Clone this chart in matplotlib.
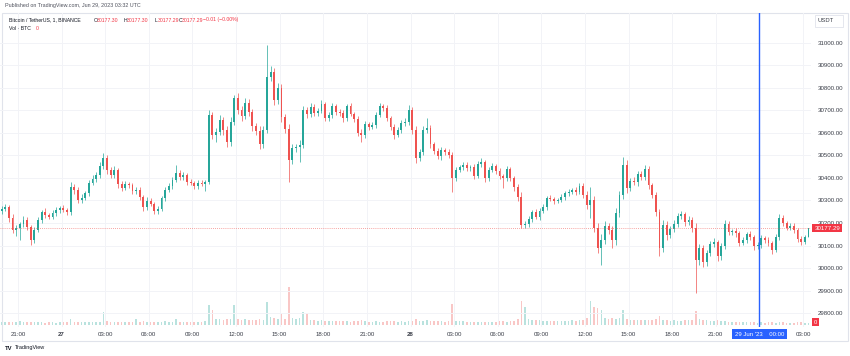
import numpy as np
import pandas as pd
import matplotlib
matplotlib.use("Agg")
import matplotlib.pyplot as plt
from matplotlib.patches import Rectangle

plt.rcParams['font.family'] = ['Liberation Sans', 'DejaVu Sans']

times = pd.date_range("2023-06-26 19:45", periods=223, freq="15min")
first_open = 30255

close = [
    30262, 30271, 30222, 30169, 30178, 30196, 30213, 30182, 30124, 30169,
    30213, 30249, 30236, 30227, 30244, 30258, 30267, 30258, 30249, 30360,
    30347, 30302, 30311, 30333, 30378, 30396, 30413, 30453, 30489, 30436,
    30413, 30436, 30373, 30356, 30373, 30369, 30342, 30347, 30316, 30271,
    30298, 30284, 30253, 30262, 30311, 30347, 30364, 30391, 30422, 30404,
    30413, 30382, 30378, 30364, 30378, 30373, 30382, 30680, 30591, 30604,
    30658, 30613, 30560, 30649, 30756, 30702, 30676, 30733, 30693, 30631,
    30609, 30551, 30613, 30849, 30871, 30747, 30800, 30671, 30618, 30480,
    30533, 30538, 30547, 30702, 30684, 30716, 30689, 30698, 30729, 30667,
    30680, 30720, 30693, 30689, 30667, 30720, 30684, 30662, 30600, 30591,
    30640, 30627, 30636, 30680, 30720, 30711, 30667, 30627, 30591, 30613,
    30644, 30649, 30702, 30613, 30489, 30516, 30613, 30622, 30551, 30520,
    30498, 30524, 30516, 30502, 30400, 30436, 30449, 30458, 30444, 30449,
    30409, 30462, 30471, 30400, 30436, 30453, 30431, 30409, 30400, 30440,
    30400, 30360, 30316, 30191, 30196, 30218, 30249, 30227, 30253, 30271,
    30311, 30307, 30298, 30302, 30316, 30333, 30338, 30347, 30338, 30364,
    30324, 30280, 30302, 30178, 30089, 30124, 30187, 30169, 30124, 30244,
    30324, 30458, 30356, 30387, 30382, 30418, 30404, 30440, 30369, 30324,
    30249, 30089, 30191, 30147, 30173, 30196, 30231, 30240, 30204, 30213,
    30178, 30036, 30089, 30027, 30067, 30107, 30116, 30053, 30098, 30196,
    30160, 30164, 30155, 30111, 30124, 30151, 30138, 30098, 30102, 30133,
    30124, 30111, 30080, 30138, 30222, 30200, 30178, 30187, 30169, 30129,
    30116, 30138, 30177.29,
]

# how far the high / low reach past the body (USDT)
wick_up = [
    12, 15, 10, 18, 14, 9, 16, 12, 10, 15,
    14, 11, 16, 9, 13, 15, 10, 12, 8, 20,
    15, 12, 18, 10, 14, 16, 12, 18, 22, 14,
    12, 16, 10, 13, 15, 11, 9, 14, 12, 10,
    16, 12, 9, 14, 11, 15, 13, 12, 36, 15,
    12, 10, 14, 9, 12, 11, 8, 22, 13, 18,
    20, 15, 18, 22, 13, 20, 16, 24, 18, 15,
    14, 20, 16, 142, 25, 20, 22, 18, 15, 20,
    18, 15, 20, 16, 14, 18, 12, 15, 16, 10,
    14, 12, 10, 15, 13, 9, 14, 11, 12, 16,
    13, 10, 15, 12, 14, 10, 12, 9, 13, 15,
    12, 16, 22, 14, 18, 15, 20, 45, 14, 10,
    12, 14, 9, 13, 15, 12, 10, 14, 11, 9,
    15, 12, 18, 10, 13, 14, 9, 12, 10, 15,
    11, 9, 14, 20, 12, 15, 10, 13, 12, 14,
    10, 12, 9, 11, 13, 10, 12, 9, 14, 15,
    12, 16, 58, 18, 22, 26, 20, 15, 18, 24,
    20, 35, 22, 14, 18, 15, 12, 16, 14, 10,
    12, 15, 24, 18, 14, 16, 12, 15, 10, 16,
    12, 20, 18, 15, 14, 12, 16, 10, 14, 18,
    12, 10, 14, 11, 13, 9, 12, 10, 14, 12,
    10, 13, 9, 15, 20, 12, 10, 13, 11, 9,
    12, 10, 0,
]
wick_dn = [
    14, 10, 16, 12, 27, 54, 12, 15, 22, 13,
    10, 12, 15, 11, 9, 14, 12, 10, 13, 12,
    16, 12, 14, 10, 13, 9, 15, 12, 14, 18,
    14, 12, 16, 13, 10, 15, 12, 11, 14, 16,
    12, 10, 14, 13, 9, 12, 11, 14, 10, 12,
    13, 11, 10, 14, 12, 9, 31, 10, 16, 31,
    15, 20, 24, 16, 14, 18, 22, 15, 18, 20,
    16, 22, 18, 15, 20, 24, 18, 20, 16, 98,
    20, 16, 66, 14, 18, 12, 15, 13, 10, 14,
    12, 15, 11, 14, 16, 12, 10, 14, 13, 31,
    12, 15, 10, 13, 11, 14, 12, 15, 16, 10,
    13, 12, 15, 16, 22, 14, 12, 15, 18, 12,
    14, 18, 12, 15, 62, 13, 10, 14, 12, 15,
    12, 10, 14, 16, 12, 11, 13, 15, 44, 12,
    14, 16, 18, 13, 15, 12, 14, 11, 13, 10,
    12, 9, 14, 11, 10, 13, 12, 10, 14, 11,
    15, 18, 58, 20, 24, 76, 18, 16, 35, 20,
    16, 18, 24, 15, 14, 16, 12, 15, 18, 14,
    16, 36, 20, 22, 15, 14, 12, 15, 18, 14,
    16, 147, 22, 24, 18, 15, 14, 20, 16, 12,
    14, 12, 15, 13, 10, 12, 14, 16, 13, 11,
    12, 14, 16, 10, 12, 13, 11, 10, 12, 14,
    12, 10, 0,
]

volume = [
    22, 25, 28, 30, 26, 35, 24, 22, 30, 26,
    24, 22, 20, 23, 21, 20, 22, 24, 26, 60,
    30, 28, 25, 24, 26, 28, 27, 30, 130, 40,
    28, 25, 30, 26, 24, 22, 28, 60, 30, 32,
    26, 24, 28, 25, 30, 32, 28, 30, 55, 30,
    26, 24, 22, 25, 23, 22, 40, 200, 150, 60,
    55, 50, 60, 55, 200, 60, 50, 55, 48, 50,
    45, 55, 50, 230, 80, 65, 60, 110, 60, 380,
    70, 60, 65, 130, 110, 50, 45, 40, 42, 38,
    35, 40, 34, 32, 36, 38, 30, 32, 35, 45,
    34, 30, 28, 32, 30, 28, 32, 34, 36, 30,
    32, 30, 35, 40, 60, 38, 40, 45, 36, 34,
    32, 35, 30, 34, 210, 40, 35, 32, 30, 28,
    30, 28, 26, 30, 28, 26, 30, 32, 36, 30,
    34, 40, 60, 240, 180, 60, 50, 45, 42, 40,
    38, 40, 36, 38, 35, 40, 38, 42, 40, 45,
    50, 70, 240, 180, 170, 150, 70, 60, 65, 60,
    70, 150, 60, 50, 48, 45, 42, 44, 45, 50,
    55, 90, 50, 45, 40, 42, 38, 40, 42, 45,
    50, 140, 60, 50, 45, 40, 38, 42, 36, 35,
    30, 28, 26, 24, 25, 22, 24, 22, 20, 22,
    20, 22, 24, 20, 26, 22, 20, 18, 20, 22,
    24, 20, 15,
]

last_price = 30177.29
price_ticks = list(range(29800, 31001, 100))
time_ticks = pd.date_range("2023-06-26 21:00", "2023-06-29 03:00", freq="3h")
time_labels = ["21:00", "27", "03:00", "06:00", "09:00", "12:00", "15:00",
               "18:00", "21:00", "28", "03:00", "06:00", "09:00", "12:00",
               "15:00", "18:00", "21:00", "", "03:00"]
crosshair = pd.Timestamp("2023-06-29 00:00")

GREEN = '#26a69a'
RED = '#ef5350'
LABEL_RED = '#f23645'
BLUE = '#2962ff'
TXT = '#3a3e48'

ref = pd.Timestamp("2023-06-26 21:00")
hours = lambda ts: (ts - ref) / pd.Timedelta(hours=1)
t = np.asarray(hours(times)) + 0.125
c = np.array(close, dtype=float)
o = np.r_[first_open, c[:-1]]
hi = np.maximum(o, c) + np.array(wick_up)
lo = np.minimum(o, c) - np.array(wick_dn)
colors = np.where(c >= o, GREEN, RED)

W, H = 850, 356
fig = plt.figure(figsize=(W / 100, H / 100), dpi=100)


def px_box(x0, y0, x1, y1):
    return [x0 / W, 1 - y1 / H, (x1 - x0) / W, (y1 - y0) / H]


ax = fig.add_axes(px_box(0, 13, 811, 327))
vax = ax.twinx()
ax.set_zorder(vax.get_zorder() + 1)
ax.patch.set_visible(False)

# volume pane
vax.bar(t, volume, width=0.11, color=colors, alpha=0.32, linewidth=0)
vax.set_ylim(-25, 3115)
vax.set_yticks([])
for s in vax.spines.values():
    s.set_visible(False)
vax.text(1.004, 0, "0", transform=vax.get_yaxis_transform(), ha='left', va='bottom',
         fontsize=4.2, color='white', clip_on=False,
         bbox=dict(boxstyle='square,pad=0.3', fc=LABEL_RED, ec='none'))

# candles
ax.vlines(t, lo, hi, colors=colors, linewidth=0.5)
ax.bar(t, np.maximum(np.abs(c - o), 2), bottom=np.minimum(o, c), width=0.13,
       color=colors, linewidth=0)

ax.set_xlim(-1.238, 54.55)
ax.set_ylim(29737.8, 31133.3)
for s in ax.spines.values():
    s.set_visible(False)

ax.yaxis.tick_right()
ax.set_yticks(price_ticks)
ax.set_yticklabels([f"{p:.2f}" for p in price_ticks])
ax.set_xticks(hours(time_ticks))
ax.set_xticklabels(time_labels)
ax.tick_params(axis='y', length=0, pad=5, labelsize=4.4, labelcolor=TXT)
ax.tick_params(axis='x', length=0, pad=3.5, labelsize=4.4, labelcolor=TXT)
for i, lab in enumerate(ax.get_xticklabels()):
    if time_labels[i] in ("27", "28"):
        lab.set_fontweight('bold')
ax.grid(True, color='#f2f3f7', linewidth=0.7)
ax.set_axisbelow(True)

# last price line and label
ax.axhline(last_price, color=RED, linewidth=0.6, linestyle=(0, (1, 1.5)), alpha=0.7)
ax.text(1.004, last_price, f"{last_price:.2f}", transform=ax.get_yaxis_transform(),
        ha='left', va='center', fontsize=4.4, color='white', clip_on=False,
        bbox=dict(boxstyle='square,pad=0.3', fc=LABEL_RED, ec='none'))

# crosshair
ch = hours(crosshair)
ax.axvline(ch, color=BLUE, linewidth=1.0)
ax.text(ch, -0.015, "29 Jun '23    00:00", transform=ax.get_xaxis_transform(),
        ha='center', va='top', fontsize=4.3, color='white', clip_on=False,
        bbox=dict(boxstyle='square,pad=0.45', fc=BLUE, ec='none'))

# frame and header
fig.add_artist(Rectangle((2 / W, 1 - 341 / H), 846 / W, 328 / H, transform=fig.transFigure,
                         fill=False, edgecolor='#e0e3eb', linewidth=0.8))
fig.add_artist(Rectangle((815 / W, 1 - 27 / H), 28 / W, 12 / H, transform=fig.transFigure,
                         facecolor='white', edgecolor='#e0e3eb', linewidth=0.6))
fig.text(817 / W, 1 - 21 / H, "USDT", fontsize=4.2, color=TXT, va='center')

fig.text(5 / W, 1 - 6 / H, "Published on TradingView.com, Jun 29, 2023 03:32 UTC",
         fontsize=3.9, color='#50535e', va='center')

fig.text(9 / W, 1 - 20 / H, "Bitcoin / TetherUS, 1, BINANCE", fontsize=3.7,
         color='#131722', va='center')
legend_parts = [(94, "O", '#131722'), (97, "30177.30", LABEL_RED),
                (124, "H", '#131722'), (127, "30177.30", LABEL_RED),
                (155, "L", '#131722'), (158, "30177.29", LABEL_RED),
                (179, "C", '#131722'), (182, "30177.29", LABEL_RED),
                (203, "\u22120.01 (\u22120.00%)", LABEL_RED)]
for x, s, col in legend_parts:
    fig.text(x / W, 1 - 20 / H, s, fontsize=3.7, color=col, va='center')
fig.text(9 / W, 1 - 29 / H, "Vol \u00b7 BTC", fontsize=3.7, color='#131722', va='center')
fig.text(36 / W, 1 - 29 / H, "0", fontsize=3.7, color=LABEL_RED, va='center')

fig.text(5 / W, 1 - 348 / H, "TV", fontsize=4.2, fontweight='bold', color='#131722',
         va='center')
fig.text(15 / W, 1 - 348 / H, "TradingView", fontsize=4.0, color='#131722', va='center')

fig.savefig("out.png", dpi=100)
